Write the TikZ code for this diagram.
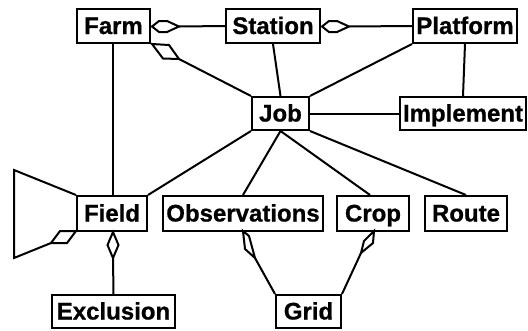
\documentclass[tikz,border=0pt]{standalone}
\usepackage{fontspec}
\setmainfont{Liberation Sans}
\newfontfamily\labelfont{Liberation Sans Bold}[FakeBold=0.8]
\usetikzlibrary{calc}
\tikzset{
  entity/.style={draw, line width=2pt, rectangle, inner sep=0pt,
    text height=16pt, text depth=0pt,
    font=\fontsize{24}{26}\labelfont, fill=white},
  link/.style={line width=2pt},
  agg/.style={line width=2pt, fill=white, line join=miter}
}
\begin{document}
\begin{tikzpicture}[x=1pt,y=-1pt]
\useasboundingbox (0,0) rectangle (528,330);

% classes
\node[entity, minimum width=73pt, minimum height=34pt] (farm) at (113.5,26) {Farm};
\node[entity, minimum width=94pt, minimum height=34pt] (station) at (273,26) {Station};
\node[entity, minimum width=104pt, minimum height=34pt] (platform) at (465,26) {Platform};
\node[entity, minimum width=57pt, minimum height=33pt] (job) at (280.5,113.5) {Job};
\node[entity, minimum width=126pt, minimum height=33pt] (implement) at (463,113.5) {Implement};
\node[entity, minimum width=70pt, minimum height=35pt] (field) at (112,213.5) {Field};
\node[entity, minimum width=160pt, minimum height=35pt] (obs) at (243,213.5) {Observations};
\node[entity, minimum width=72pt, minimum height=35pt] (crop) at (373,213.5) {Crop};
\node[entity, minimum width=82pt, minimum height=35pt] (route) at (466,213.5) {Route};
\node[entity, minimum width=123pt, minimum height=33pt] (exclusion) at (113.5,311.5) {Exclusion};
\node[entity, minimum width=65pt, minimum height=33pt] (grid) at (308.5,311.5) {Grid};

% diamond ends (aggregation)
\coordinate (fsTip) at ($(farm.east)+(28,0.5)$);
\coordinate (spTip) at ($(station.east)+(28,0.5)$);
\coordinate (fjTip) at ($(farm.south east)+(28,15)$);
\coordinate (flTip) at ($(field.south west)+(-25,11)$);
\coordinate (feTip) at ($(field.south)+(1,26)$);
\coordinate (ogTip) at ($(obs.south)+(12,26)$);
\coordinate (cgTip) at ($(crop.south)+(-12,21)$);
\coordinate (loopA) at (14,170);
\coordinate (loopB) at (14,258);

% connectors
\draw[link] (fsTip) -- (station.west);
\draw[link] (spTip) -- (platform.west);
\draw[link] (fjTip) -- (job.north west);
\draw[link] (station.south) -- (job.north);
\draw[link] (platform.south west) -- (job.north east);
\draw[link] (platform.south) -- (implement.north);
\draw[link] (job.east) -- (implement.west);
\draw[link] ($(farm.south)+(-0.5,0)$) -- ($(field.north)+(1,0)$);
\draw[link] (job.south west) -- (field.north east);
\draw[link] (job.south) -- (obs.north);
\draw[link] (job.south) -- ($(crop.north)+(-3,0)$);
\draw[link] (job.south east) -- (route.north);
\draw[link] (feTip) -- (exclusion.north);
\draw[link] (ogTip) -- (grid.north west);
\draw[link] (cgTip) -- (grid.north east);
\draw[link] (field.north west) -- (loopA) -- (loopB) -- (flTip);

% aggregation diamonds
\draw[agg] ($(farm.east)+(1,0.5)$) -- ++(7,-5.5) -- ++(8,0) -- (fsTip) -- ++(-12,5.5) -- ++(-8,0) -- cycle;
\draw[agg] ($(station.east)+(1,0.5)$) -- ++(7,-5.5) -- ++(8,0) -- (spTip) -- ++(-12,5.5) -- ++(-8,0) -- cycle;
\draw[agg] ($(farm.south east)+(1,0)$) -- ++(17,1) -- (fjTip) -- ++(-16,-0.5) -- cycle;
\draw[agg] ($(field.south west)+(0,-1)$) -- ++(-9,12) -- (flTip) -- ++(9,-12) -- cycle;
\draw[agg] ($(field.south)+(1,0)$) -- ++(5.5,13) -- (feTip) -- ++(-5.5,-13) -- cycle;
\draw[agg] ($(obs.south)+(0,-1)$) -- ++(6,5) -- (ogTip) -- ++(-10,-9) -- cycle;
\draw[agg] ($(crop.south)+(1,-1)$) -- ++(-1,12) -- (cgTip) -- ++(3,-12) -- cycle;
\end{tikzpicture}
\end{document}
